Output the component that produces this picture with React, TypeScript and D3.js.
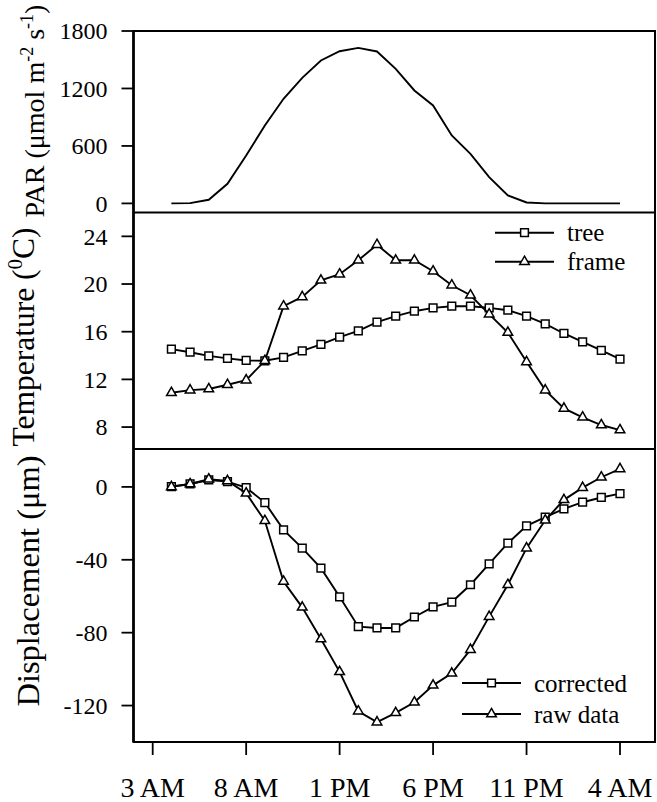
import React from "react";
import * as d3 from "d3";

const hours = [4,5,6,7,8,9,10,11,12,13,14,15,16,17,18,19,20,21,22,23,24,25,26,27,28];
const parValues = [0,3,38,205,500,814,1092,1311,1492,1589,1624,1586,1405,1179,1023,710,518,275,83,10,0,0,0,0,0];
const treeTemp = [14.54,14.28,13.97,13.76,13.59,13.56,13.84,14.39,14.93,15.54,16.07,16.8,17.3,17.72,18.0,18.14,18.14,18.0,17.8,17.3,16.65,15.85,15.15,14.43,13.7];
const frameTemp = [10.88,11.1,11.19,11.55,11.94,13.56,18.14,18.92,20.31,20.82,21.99,23.3,21.99,21.99,21.07,19.9,19.06,17.47,15.93,13.47,11.1,9.57,8.82,8.17,7.75];
const corrected = [0.2,1.6,3.8,2.9,-0.4,-8.6,-23.6,-33.6,-44.6,-60.3,-76.7,-77.4,-77.4,-71.4,-65.8,-63.2,-53.7,-42.2,-30.9,-21.4,-16.6,-12.1,-8.4,-5.8,-3.7];
const rawData = [0,1.6,4.2,3.3,-3.5,-18.6,-51.9,-66.1,-83.5,-101.5,-123.1,-129.1,-124.0,-118.2,-108.9,-102.3,-89.3,-71.2,-53.7,-33.6,-18.3,-7.1,-0.4,5.3,9.9];

const xTickHours = [3,8,13,18,23,28];
const xTickLabels = ["3 AM","8 AM","1 PM","6 PM","11 PM","4 AM"];
const parTicks = [0,600,1200,1800];
const tempTicks = [8,12,16,20,24];
const dispTicks = [-120,-80,-40,0];

const FONT = '"Liberation Serif", "DejaVu Serif", serif';
const fs = (size: number) => ({ fontFamily: FONT, fontSize: size });
const L = 133.5, R = 655;
const P1 = { top: 31, bottom: 212.5 };
const P2 = { top: 212.5, bottom: 449 };
const P3 = { top: 449, bottom: 742 };

const x = d3.scaleLinear().domain([3, 28]).range([152.7, 620]);
const yPar = d3.scaleLinear().domain([-95, 1800]).range([P1.bottom, P1.top]);
const yTemp = d3.scaleLinear().domain([6.16, 26]).range([P2.bottom, P2.top]);
const yDisp = d3.scaleLinear().domain([-140, 20.8]).range([P3.bottom, P3.top]);

const sq = d3.symbol(d3.symbolSquare, 60)()!;
const tri = d3.symbol(d3.symbolTriangle, 40)()!;

function Series({ vals, y, marker }: { vals: number[]; y: d3.ScaleLinear<number, number>; marker?: string }) {
  const line = d3.line<number>().x((_, i) => x(hours[i])).y((d) => y(d));
  return (
    <g>
      <path d={line(vals)!} fill="none" stroke="#000" strokeWidth={1.9} />
      {marker &&
        vals.map((v, i) => (
          <path key={i} d={marker} transform={`translate(${x(hours[i])},${y(v)})`} fill="#fff" stroke="#000" strokeWidth={1.5} />
        ))}
    </g>
  );
}

function YAxis({ y, ticks }: { y: d3.ScaleLinear<number, number>; ticks: number[] }) {
  return (
    <g>
      {ticks.map((t) => (
        <g key={t}>
          <line x1={L - 12} x2={L} y1={y(t)} y2={y(t)} stroke="#000" strokeWidth={1.8} />
          <text x={107.5} y={y(t)} dy="0.34em" textAnchor="end" style={fs(24)}>
            {t}
          </text>
        </g>
      ))}
    </g>
  );
}

function LegendItem({ x0, yl, marker, label }: { x0: number; yl: number; marker: string; label: string }) {
  return (
    <g>
      <line x1={x0} x2={x0 + 59} y1={yl} y2={yl} stroke="#000" strokeWidth={1.9} />
      <path d={marker} transform={`translate(${x0 + 29.5},${yl})`} fill="#fff" stroke="#000" strokeWidth={1.5} />
      <text x={x0 + 72} y={yl + 8.5} style={fs(25)}>
        {label}
      </text>
    </g>
  );
}

export default function App() {
  return (
    <svg width={657} height={802} style={{ position: "absolute", left: 0, top: 0, background: "#fff" }}>
      <rect x={0} y={0} width={657} height={802} fill="#fff" />
      <rect x={L} y={P1.top} width={R - L} height={P3.bottom - P1.top} fill="none" stroke="#000" strokeWidth={2} />
      <line x1={L} x2={R} y1={P2.top} y2={P2.top} stroke="#000" strokeWidth={2} />
      <line x1={L} x2={R} y1={P3.top} y2={P3.top} stroke="#000" strokeWidth={2} />
      <line x1={L} x2={L} y1={P1.top} y2={P3.bottom} stroke="#000" strokeWidth={2.6} />

      <YAxis y={yPar} ticks={parTicks} />
      <YAxis y={yTemp} ticks={tempTicks} />
      <YAxis y={yDisp} ticks={dispTicks} />

      {xTickHours.map((h, i) => (
        <g key={h}>
          <line x1={x(h)} x2={x(h)} y1={P3.bottom} y2={P3.bottom + 13} stroke="#000" strokeWidth={1.8} />
          <text x={x(h)} y={797} textAnchor="middle" style={fs(28)}>
            {xTickLabels[i]}
          </text>
        </g>
      ))}

      <Series vals={parValues} y={yPar} />
      <Series vals={treeTemp} y={yTemp} marker={sq} />
      <Series vals={frameTemp} y={yTemp} marker={tri} />
      <Series vals={corrected} y={yDisp} marker={sq} />
      <Series vals={rawData} y={yDisp} marker={tri} />

      <LegendItem x0={495} yl={232.7} marker={sq} label="tree" />
      <LegendItem x0={495} yl={261.7} marker={tri} label="frame" />
      <LegendItem x0={462} yl={683} marker={sq} label="corrected" />
      <LegendItem x0={462} yl={714} marker={tri} label="raw data" />

      <text transform={`translate(44,${111}) rotate(-90)`} textAnchor="middle" style={fs(28)}>
        PAR  (μmol m<tspan style={{ fontSize: 18 }} dy={-11}>-2</tspan>
        <tspan dy={11}> </tspan>s<tspan style={{ fontSize: 18 }} dy={-11}>-1</tspan>
        <tspan dy={11}>)</tspan>
      </text>
      <text transform={`translate(34,${337}) rotate(-90)`} textAnchor="middle" style={fs(31.5)}>
        Temperature (<tspan style={{ fontSize: 21 }} dy={-12}>0</tspan>
        <tspan dy={12}>C)</tspan>
      </text>
      <text transform={`translate(39,${581}) rotate(-90)`} textAnchor="middle" style={fs(32.5)}>
        Displacement (μm)
      </text>
    </svg>
  );
}
